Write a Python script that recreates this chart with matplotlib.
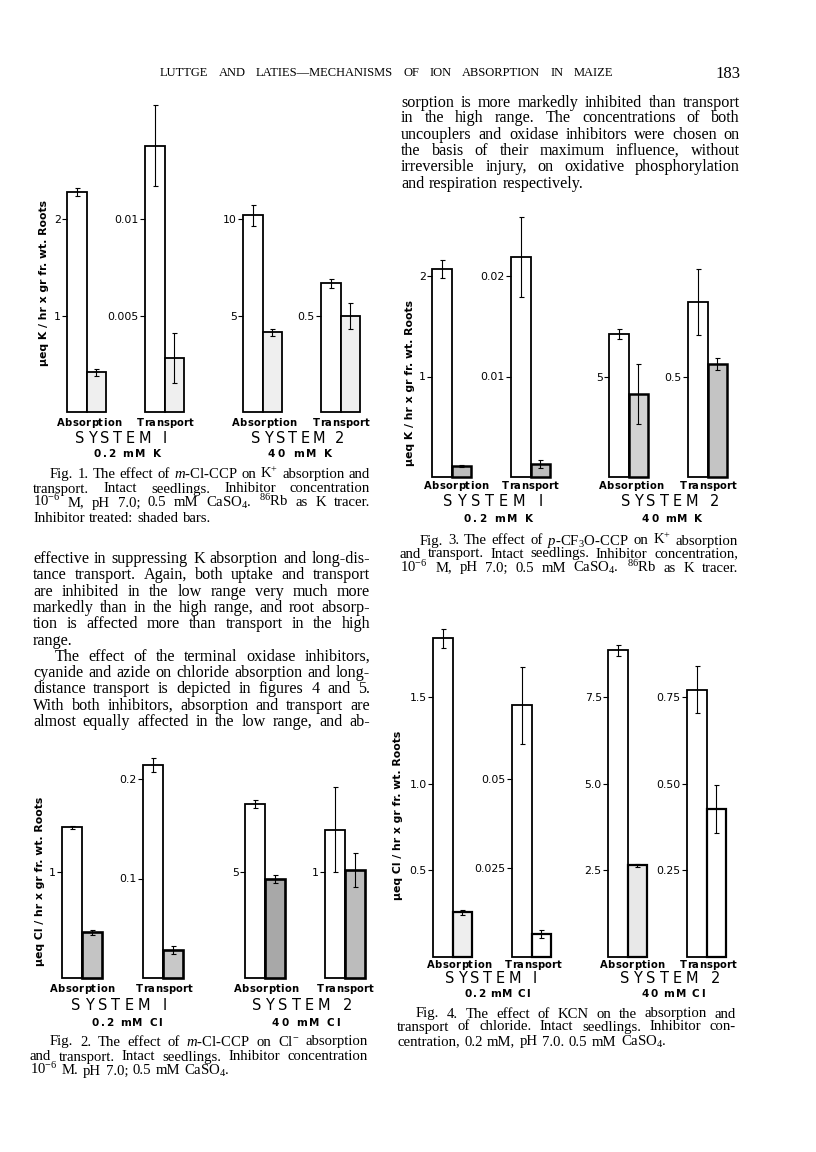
import matplotlib
matplotlib.use("Agg")
import matplotlib.pyplot as plt

plt.rcParams['mathtext.fontset'] = 'custom'
plt.rcParams['mathtext.rm'] = 'Liberation Serif'
plt.rcParams['mathtext.it'] = 'Liberation Serif:italic'
plt.rcParams['mathtext.bf'] = 'Liberation Serif:bold'

# ---------------- data ----------------
group_labels = ["Absorption", "Transport", "Absorption", "Transport"]
system_labels = ["SYSTEM I", "SYSTEM 2"]

fig1_control = [2.28, 0.0138, 10.2, 0.67]
fig1_control_err = [0.04, 0.0021, 0.55, 0.025]
fig1_treated = [0.41, 0.0028, 4.12, 0.50]
fig1_treated_err = [0.04, 0.0013, 0.20, 0.07]
fig1_ticks = [[1, 2], [0.005, 0.01], [5, 10], [0.5]]
fig1_ticklabels = [["1", "2"], ["0.005", "0.01"], ["5", "10"], ["0.5"]]
fig1_conc = ["0.2 mM K", "40 mM K"]
fig1_ylabel = "\u03bceq K / hr x gr fr. wt. Roots"

fig2_control = [1.42, 0.214, 8.2, 1.40]
fig2_control_err = [0.01, 0.007, 0.20, 0.40]
fig2_treated = [0.43, 0.028, 4.67, 1.02]
fig2_treated_err = [0.02, 0.004, 0.19, 0.16]
fig2_ticks = [[1], [0.1, 0.2], [5], [1]]
fig2_ticklabels = [["1"], ["0.1", "0.2"], ["5"], ["1"]]
fig2_conc = ["0.2 mM Cl", "40 mM Cl"]
fig2_ylabel = "\u03bceq Cl / hr x gr fr. wt. Roots"

fig3_control = [2.07, 0.0219, 7.16, 0.876]
fig3_control_err = [0.09, 0.004, 0.25, 0.165]
fig3_treated = [0.11, 0.0013, 4.13, 0.567]
fig3_treated_err = [0.01, 0.0004, 1.5, 0.03]
fig3_ticks = [[1, 2], [0.01, 0.02], [5], [0.5]]
fig3_ticklabels = [["1", "2"], ["0.01", "0.02"], ["5"], ["0.5"]]
fig3_conc = ["0.2 mM K", "40 mM K"]
fig3_ylabel = "\u03bceq K / hr x gr fr. wt. Roots"

fig4_control = [1.84, 0.0707, 8.85, 0.771]
fig4_control_err = [0.055, 0.0108, 0.16, 0.068]
fig4_treated = [0.257, 0.0064, 2.65, 0.427]
fig4_treated_err = [0.017, 0.0011, 0.04, 0.068]
fig4_ticks = [[0.5, 1.0, 1.5], [0.025, 0.05], [2.5, 5.0, 7.5], [0.25, 0.50, 0.75]]
fig4_ticklabels = [["0.5", "1.0", "1.5"], ["0.025", "0.05"], ["2.5", "5.0", "7.5"], ["0.25", "0.50", "0.75"]]
fig4_conc = ["0.2 mM Cl", "40 mM Cl"]
fig4_ylabel = "\u03bceq Cl / hr x gr fr. wt. Roots"

header_text = "LUTTGE AND LATIES\u2014MECHANISMS OF ION ABSORPTION IN MAIZE"
page_number = "183"

right_top_lines = [
    "sorption is more markedly inhibited than transport",
    "in the high range. The concentrations of both",
    "uncouplers and oxidase inhibitors were chosen on",
    "the basis of their maximum influence, without",
    "irreversible injury, on oxidative phosphorylation",
    "and respiration respectively.",
]
left_body_lines = [
    "effective in suppressing K absorption and long-dis-",
    "tance transport.  Again, both uptake and transport",
    "are inhibited in the low range very much more",
    "markedly than in the high range, and root absorp-",
    "tion is affected more than transport in the high",
    "range.",
    "The effect of the terminal oxidase inhibitors,",
    "cyanide and azide on chloride absorption and long-",
    "distance transport is depicted in figures 4 and 5.",
    "With both inhibitors, absorption and transport are",
    "almost equally affected in the low range, and ab-",
]
cap1_lines = [
    "Fig. 1.  The effect of $\\it{m}$-Cl-CCP on K$^{+}$ absorption and",
    "transport.  Intact seedlings.  Inhibitor concentration",
    "10$^{-6}$ M, pH 7.0; 0.5 mM CaSO$_{4}$.  $^{86}$Rb as K tracer.",
    "Inhibitor treated: shaded bars.",
]
cap2_lines = [
    "Fig. 2.  The effect of $\\it{m}$-Cl-CCP on Cl$^{-}$ absorption",
    "and transport.  Intact seedlings.  Inhibitor concentration",
    "10$^{-6}$ M. pH 7.0; 0.5 mM CaSO$_{4}$.",
]
cap3_lines = [
    "Fig. 3.  The effect of $\\it{p}$-CF$_{3}$O-CCP on K$^{+}$ absorption",
    "and transport.  Intact seedlings.  Inhibitor concentration,",
    "10$^{-6}$ M, pH 7.0; 0.5 mM CaSO$_{4}$.  $^{86}$Rb as K tracer.",
]
cap4_lines = [
    "Fig. 4.  The effect of KCN on the absorption and",
    "transport of chloride.  Intact seedlings.  Inhibitor con-",
    "centration, 0.2 mM, pH 7.0.  0.5 mM CaSO$_{4}$.",
]

# ---------------- figure ----------------
W, H = 816, 1152
fig = plt.figure(figsize=(W / 100, H / 100), dpi=100)
fig.patch.set_facecolor("white")
renderer = fig.canvas.get_renderer()

SERIF = ["Liberation Serif", "DejaVu Serif"]
SANS = ["DejaVu Sans"]


def fx(x):
    return x / W


def fy(y):
    return 1 - y / H


def place_items(items, x0, x1, y, justify=True, **kw):
    texts = [fig.text(fx(x0), fy(y), s, ha="left", va="baseline", **kw) for s in items]
    widths = [t.get_window_extent(renderer).width for t in texts]
    fs = kw.get("fontsize", 10)
    if justify and len(items) > 1:
        gap = (x1 - x0 - sum(widths)) / (len(items) - 1)
    else:
        gap = fs * 0.3 * 100 / 72
    x = x0
    for t, w in zip(texts, widths):
        t.set_x(fx(x))
        x += w + gap


def text_line(line, x0, x1, y, justify=True, **kw):
    words = [w for w in line.split(" ") if w]
    place_items(words, x0, x1, y, justify=justify, **kw)


def spaced_label(s, xc, width, y, **kw):
    fs = kw.get("fontsize", 8)
    chars = list(s)
    texts, widths = [], []
    for c in chars:
        if c == " ":
            texts.append(None)
            widths.append(fs * 0.3 * 100 / 72)
        else:
            t = fig.text(0, fy(y), c, ha="left", va="baseline", **kw)
            texts.append(t)
            widths.append(t.get_window_extent(renderer).width)
    gap = (width - sum(widths)) / (len(chars) - 1)
    x = xc - width / 2
    for t, w in zip(texts, widths):
        if t is not None:
            t.set_x(fx(x))
        x += w + gap


def draw_panel(ax_x, baseline, ppu, bar_w, ctrl, ctrl_err, trt, trt_err,
               ticks, ticklabels, shade, shade_lw):
    h_px = 260
    ax = fig.add_axes([fx(ax_x), fy(baseline), 2 * bar_w / W, h_px / H])
    ax.set_xlim(0, 2)
    ax.set_ylim(0, h_px / ppu)
    ax.bar([0.5], [ctrl], width=1, color="white", edgecolor="black", lw=1.3, clip_on=False)
    ax.bar([1.5], [trt], width=1, color=shade, edgecolor="black", lw=shade_lw, clip_on=False)
    ax.errorbar([0.5, 1.5], [ctrl, trt], yerr=[ctrl_err, trt_err], fmt="none",
                ecolor="black", elinewidth=0.8, capsize=1.8, capthick=0.8, clip_on=False)
    for sp in ax.spines.values():
        sp.set_visible(False)
    ax.set_xticks([])
    ax.set_yticks(ticks)
    ax.set_yticklabels(ticklabels, family=SANS, fontsize=7.8)
    ax.tick_params(axis="y", length=3.5, width=0.8, pad=1.0, color="black")
    ax.patch.set_alpha(0)
    return ax


def draw_figure(control, control_err, treated, treated_err, ticks, ticklabels,
                conc, ylabel, layout):
    for i in range(4):
        draw_panel(layout["axis_x"][i], layout["baseline"], layout["ppu"][i], layout["bar_w"],
                   control[i], control_err[i], treated[i], treated_err[i],
                   ticks[i], ticklabels[i], layout["shade"][i], layout["shade_lw"])
    b = layout["baseline"]
    for i in range(4):
        w = 65 if group_labels[i] == "Absorption" else 57
        spaced_label(group_labels[i], layout["group_x"][i], w, b + layout["dy"][0],
                     family=SANS, fontsize=7.2, weight="bold")
    for j in range(2):
        spaced_label(system_labels[j], layout["sys_x"][j], layout["sys_w"][j], b + layout["dy"][1],
                     family=SANS, fontsize=10.5)
        spaced_label(conc[j], layout["conc_x"][j], layout["conc_w"][j], b + layout["dy"][2],
                     family=SANS, fontsize=7.5, weight="bold")
    fig.text(fx(layout["ylabel_xy"][0]), fy(layout["ylabel_xy"][1]), ylabel, rotation=90,
             ha="center", va="center", family=SANS, fontsize=7.8, weight="bold")


layout1 = dict(axis_x=[67, 145, 243, 321], baseline=412,
               ppu=[96.5, 193 / 0.01, 193 / 10, 192 / 1.0], bar_w=19.5,
               shade=["#efefef"] * 4, shade_lw=1.3,
               group_x=[89, 165, 264, 341], sys_x=[121, 298], sys_w=[92, 93],
               conc_x=[127, 300], conc_w=[67, 64], dy=[14, 31, 45],
               ylabel_xy=[44, 283])
layout3 = dict(axis_x=[432, 511, 609, 688], baseline=477,
               ppu=[100.5, 201 / 0.02, 100 / 5, 100 / 0.5], bar_w=19.5,
               shade=["#bdbdbd", "#bdbdbd", "#d2d2d2", "#c4c4c4"], shade_lw=1.8,
               group_x=[456, 530, 631, 708], sys_x=[493, 670], sys_w=[100, 99],
               conc_x=[498, 672], conc_w=[70, 60], dy=[12, 29, 45],
               ylabel_xy=[410, 383])
layout2 = dict(axis_x=[62, 143, 245, 325], baseline=978,
               ppu=[106, 199 / 0.2, 106 / 5, 106], bar_w=20,
               shade=["#c4c4c4", "#c8c8c8", "#a8a8a8", "#bcbcbc"], shade_lw=1.9,
               group_x=[82, 164, 266, 345], sys_x=[119, 302], sys_w=[95, 100],
               conc_x=[127, 306], conc_w=[70, 68], dy=[14, 32, 48],
               ylabel_xy=[40, 881])
layout4 = dict(axis_x=[433, 512, 608, 687], baseline=957,
               ppu=[267 / 1.5, 178 / 0.05, 267 / 7.5, 267 / 0.75], bar_w=19.5,
               shade=["#eeeeee", "#ffffff", "#e8e8e8", "#ffffff"], shade_lw=1.6,
               group_x=[459, 533, 632, 708], sys_x=[491, 670], sys_w=[92, 100],
               conc_x=[497, 673], conc_w=[65, 63], dy=[11, 26, 40],
               ylabel_xy=[398, 815])

draw_figure(fig1_control, fig1_control_err, fig1_treated, fig1_treated_err,
            fig1_ticks, fig1_ticklabels, fig1_conc, fig1_ylabel, layout1)
draw_figure(fig2_control, fig2_control_err, fig2_treated, fig2_treated_err,
            fig2_ticks, fig2_ticklabels, fig2_conc, fig2_ylabel, layout2)
draw_figure(fig3_control, fig3_control_err, fig3_treated, fig3_treated_err,
            fig3_ticks, fig3_ticklabels, fig3_conc, fig3_ylabel, layout3)
draw_figure(fig4_control, fig4_control_err, fig4_treated, fig4_treated_err,
            fig4_ticks, fig4_ticklabels, fig4_conc, fig4_ylabel, layout4)

# ---------------- page text ----------------
place_items(header_text.split(" "), 160, 613, 76.5, family=SERIF, fontsize=9.0)
fig.text(fx(740), fy(78), page_number, ha="right", va="baseline", family=SERIF, fontsize=12)

BODY = dict(family=SERIF, fontsize=11.6)
CAP = dict(family=SERIF, fontsize=10.6)

right_top_y = [103, 118, 135, 151, 167, 184]
for k, (line, y) in enumerate(zip(right_top_lines, right_top_y)):
    text_line(line, 401, 740, y + 4, justify=(k < len(right_top_lines) - 1), **BODY)

left_body_y = [559, 575, 592, 608, 624, 641, 657, 673, 689, 706, 722]
for k, (line, y) in enumerate(zip(left_body_lines, left_body_y)):
    x0 = 55 if k == 6 else 33
    text_line(line, x0, 370, y + 4, justify=(k != 5), **BODY)

cap1_y = [475, 489, 503, 518]
for k, (line, y) in enumerate(zip(cap1_lines, cap1_y)):
    x0 = 50 if k == 0 else 33
    text_line(line, x0, 370, y + 3.5, justify=(k < 3), **CAP)

cap2_y = [1042, 1057, 1071]
for k, (line, y) in enumerate(zip(cap2_lines, cap2_y)):
    x0 = 50 if k == 0 else 30
    text_line(line, x0, 368, y + 3.5, justify=(k < 2), **CAP)

cap3_y = [541, 554, 568]
for k, (line, y) in enumerate(zip(cap3_lines, cap3_y)):
    x0 = 420 if k == 0 else 400
    text_line(line, x0, 738, y + 3.5, justify=True, **CAP)

cap4_y = [1014, 1027, 1042]
for k, (line, y) in enumerate(zip(cap4_lines, cap4_y)):
    x0 = 416 if k == 0 else 397
    text_line(line, x0, 736, y + 3.5, justify=(k < 2), **CAP)

fig.savefig("out.png", dpi=100, facecolor="white")
